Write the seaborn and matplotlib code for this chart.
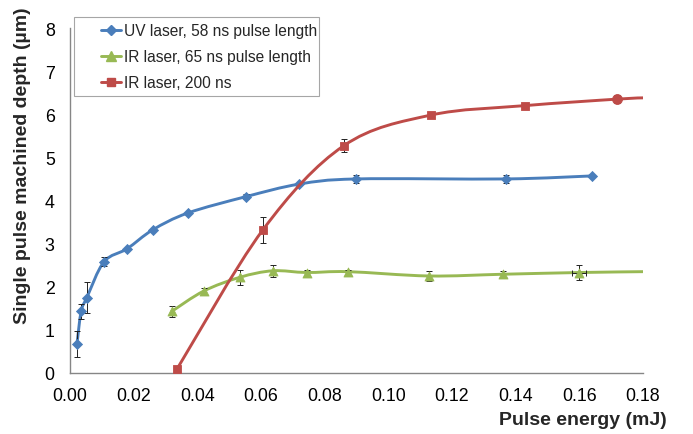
import numpy as np
import pandas as pd
import matplotlib
matplotlib.use("Agg")
import matplotlib.pyplot as plt
import seaborn as sns
from matplotlib.path import Path
from matplotlib.patches import PathPatch, Rectangle
from matplotlib.lines import Line2D

# ---- measured single-pulse depths ----
uv_x = [0.0022, 0.0035, 0.0053, 0.0107, 0.0179, 0.026, 0.037, 0.0553, 0.072, 0.090, 0.137, 0.164]
uv_y = [0.68, 1.43, 1.75, 2.58, 2.88, 3.32, 3.71, 4.09, 4.38, 4.50, 4.50, 4.57]
uv_err = [0.30, 0.18, 0.36, 0.10, 0.03, 0.03, 0.03, 0.05, 0.03, 0.10, 0.09, 0.03]

ir65_x = [0.032, 0.042, 0.0534, 0.0637, 0.0744, 0.0873, 0.1127, 0.136, 0.160, 0.180]
ir65_y = [1.43, 1.90, 2.22, 2.37, 2.33, 2.35, 2.25, 2.29, 2.33, 2.35]
ir65_err = [0.12, 0.08, 0.18, 0.14, 0.05, 0.05, 0.11, 0.08, 0.17, 0.0]
ir65_xerr = [0.0, 0.0, 0.0, 0.0, 0.0, 0.0, 0.0, 0.0, 0.0022, 0.0]

ir200_x = [0.0336, 0.0606, 0.086, 0.1133, 0.1429, 0.1717, 0.180]
ir200_y = [0.09, 3.32, 5.27, 5.98, 6.20, 6.35, 6.38]
ir200_err = [0.02, 0.30, 0.15, 0.03, 0.03, 0.10, 0.0]

series_names = ["UV laser, 58 ns pulse length",
                "IR laser, 65 ns pulse length",
                "IR laser, 200 ns"]
x_ticks = [0.00, 0.02, 0.04, 0.06, 0.08, 0.10, 0.12, 0.14, 0.16, 0.18]
y_ticks = [0, 1, 2, 3, 4, 5, 6, 7, 8]

BLUE, GREEN, RED = "#4A7EBB", "#98B954", "#BE4B48"
AXIS_GREY = "#868686"

sns.set_style("white")
plt.rcParams["font.family"] = ["Liberation Sans", "DejaVu Sans"]

fig = plt.figure(figsize=(6.93, 4.35), dpi=100)
ax = fig.add_axes([70 / 693, 1 - 374 / 435, 573 / 693, 345 / 435])


def smooth_path(xs, ys):
    """Bezier path through the points (Catmull-Rom tangents)."""
    p = np.column_stack([xs, ys]).astype(float)
    n = len(p)
    verts = [p[0]]
    codes = [Path.MOVETO]
    for i in range(n - 1):
        p_prev = p[i - 1] if i > 0 else p[i]
        p_next = p[i + 2] if i + 2 < n else p[i + 1]
        c1 = p[i] + (p[i + 1] - p_prev) / 6.0
        c2 = p[i + 1] - (p_next - p[i]) / 6.0
        verts += [c1, c2, p[i + 1]]
        codes += [Path.CURVE4] * 3
    return Path(verts, codes)


def draw_series(xs, ys, err, color, marker, size, n_marked, z, xerr=None, last_marker=None):
    ax.add_patch(PathPatch(smooth_path(xs, ys), fill=False, edgecolor=color,
                           lw=2.1, capstyle="round", joinstyle="round", zorder=z))
    ax.errorbar(xs[:n_marked], ys[:n_marked], yerr=err[:n_marked],
                xerr=None if xerr is None else xerr[:n_marked],
                fmt="none", ecolor="#222222", elinewidth=0.7, capsize=2.2,
                capthick=0.7, zorder=z + 0.1)
    df = pd.DataFrame({"x": xs[:n_marked], "y": ys[:n_marked]})
    markers_df = df if last_marker is None else df.iloc[:-1]
    sns.scatterplot(data=markers_df, x="x", y="y", ax=ax, marker=marker, s=size,
                    color=color, edgecolor=color, linewidth=0.6, zorder=z + 0.2,
                    legend=False)
    if last_marker is not None:
        sns.scatterplot(data=df.iloc[-1:], x="x", y="y", ax=ax, marker=last_marker,
                        s=size * 1.6, color=color, edgecolor=color, linewidth=0.6,
                        zorder=z + 0.2, legend=False)


draw_series(uv_x, uv_y, uv_err, BLUE, "D", 26, len(uv_x), 3)
draw_series(ir65_x, ir65_y, ir65_err, GREEN, "^", 42, len(ir65_x) - 1, 4, xerr=ir65_xerr)
draw_series(ir200_x, ir200_y, ir200_err, RED, "s", 32, len(ir200_x) - 1, 5, last_marker="o")

ax.set_xlim(0, 0.18)
ax.set_ylim(0, 8)
ax.set_xticks(x_ticks)
ax.set_xticklabels([f"{v:.2f}" for v in x_ticks])
ax.set_yticks(y_ticks)
ax.set_yticklabels([str(v) for v in y_ticks])

for side in ("top", "right"):
    ax.spines[side].set_visible(False)
for side in ("left", "bottom"):
    ax.spines[side].set_color(AXIS_GREY)
    ax.spines[side].set_linewidth(1.0)

ax.tick_params(axis="both", which="major", direction="out", length=4.5, width=0.8,
               color=AXIS_GREY, labelsize=12.8, labelcolor="black")
ax.tick_params(axis="x", pad=5.5)
ax.tick_params(axis="y", pad=6.5)
ax.set_xlabel("")
ax.set_ylabel("")

fig.text(667 / 693, 1 - 421 / 435, "Pulse energy (mJ)", ha="right", va="center",
         fontsize=14, fontweight="bold")
fig.text(23 / 693, 1 - 166 / 435, "Single pulse machined depth (µm)", ha="center",
         va="center", rotation=90, fontsize=14, fontweight="bold")

# legend box and entries
fig.patches.append(Rectangle((74 / 693, 1 - 97 / 435), (319 - 74) / 693, (97 - 18) / 435,
                             transform=fig.transFigure, fill=False,
                             edgecolor="#A6A6A6", lw=0.8))
handles = [
    Line2D([], [], color=BLUE, lw=2.1, marker="D", markersize=5),
    Line2D([], [], color=GREEN, lw=2.1, marker="^", markersize=6.5),
    Line2D([], [], color=RED, lw=2.1, marker="s", markersize=5.5),
]
fig.legend(handles, series_names, loc="upper left",
           bbox_to_anchor=(101 / 693, 1 - 24 / 435), bbox_transform=fig.transFigure,
           frameon=False, fontsize=11.2, handlelength=1.3, handletextpad=0.15,
           labelspacing=0.72, borderpad=0, borderaxespad=0)

fig.savefig("out.png", dpi=100)
